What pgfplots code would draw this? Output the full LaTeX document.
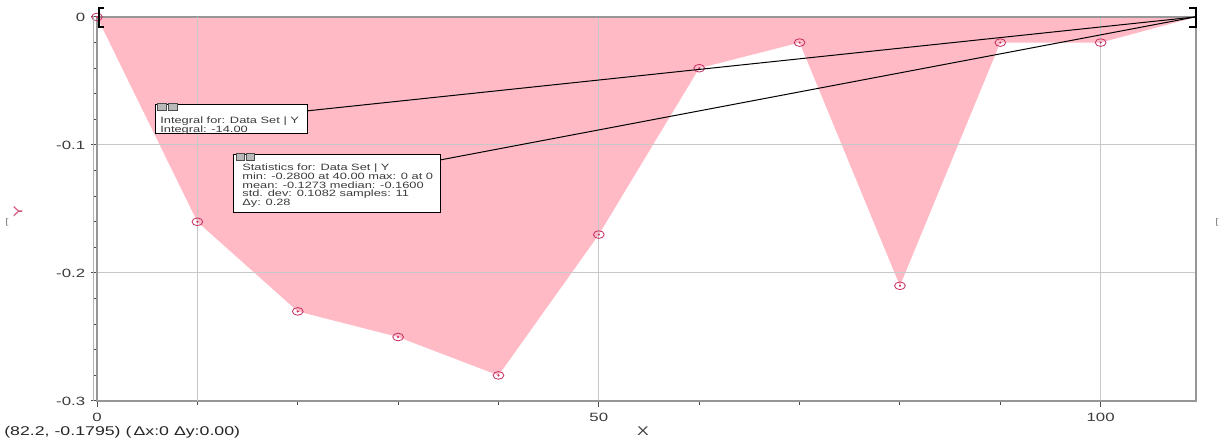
\documentclass[border=0pt]{standalone}
\usepackage{pgfplots}
\pgfplotsset{compat=1.18}
\usepackage{pgfplotstable}
\usepackage{fontspec}
\setmainfont{Liberation Sans}[FakeStretch=1.4]
\definecolor{fillpink}{RGB}{255,186,198}
\definecolor{markc}{RGB}{200,50,100}
\definecolor{axgray}{RGB}{150,150,150}
\definecolor{gridgray}{RGB}{200,200,200}
\definecolor{ylab}{RGB}{215,80,120}
\definecolor{txt}{RGB}{60,60,60}

\pgfplotstableread{
x y
0 0
10 -0.16
20 -0.23
30 -0.25
40 -0.28
50 -0.17
60 -0.04
70 -0.02
80 -0.21
90 -0.02
100 -0.02
}\pts

\pgfplotstableread{
x y
0 0
10 -0.16
20 -0.23
30 -0.25
40 -0.28
50 -0.17
60 -0.04
70 -0.02
80 -0.21
90 -0.02
100 -0.02
109.5 0
}\fillpts

\begin{document}
\begin{tikzpicture}
\useasboundingbox (0,0) rectangle (735pt,266.4pt);
\begin{axis}[
  name=ax, at={(58.2pt,25.8pt)}, anchor=south west,
  scale only axis, width=659.4pt, height=230.4pt,
  xmin=0, xmax=109.5, ymin=-0.3, ymax=0,
  xtick={0,50,100}, ytick={-0.3,-0.2,-0.1,0},
  minor x tick num=4, minor y tick num=4,
  tick align=outside, tick pos=left,
  major tick length=3.6pt, minor tick length=2.4pt,
  every tick/.style={black!70, line width=0.6pt},
  axis line style={axgray, line width=0.9pt},
  xmajorgrids, ymajorgrids,
  extra x ticks={10}, extra x tick labels={},
  extra x tick style={grid=major, major tick length=0pt},
  grid style={gridgray, line width=0.6pt},
  axis on top,
  /pgf/number format/assume math mode=true,
  tick label style={font=\fontsize{7.2}{8}\selectfont, text=txt},
  clip=false,
]
\addplot[fill=fillpink, draw=none] table {\fillpts} \closedcycle;
\addplot[only marks, mark=o, mark size=2.3pt, markc, mark options={xscale=1.4, line width=0.5pt}] table {\pts};
\addplot[only marks, mark=*, mark size=0.4pt, markc] table {\pts};
\end{axis}
\begin{scope}[x=0.6pt, y=-0.6pt, shift={(0pt,266.4pt)}]
  % left axis double line
  \draw[gray!60, line width=0.6pt] (93,16) -- (93,401);
  % callout lines
  \draw[black, line width=0.6pt] (306,111) -- (1195,17);
  \draw[black, line width=0.6pt] (440,160) -- (1195,17);
  % brackets
  \draw[black, line width=1.3pt] (104,8) -- (99,8) -- (99,27) -- (104,27);
  \draw[black, line width=1.3pt] (1189,8) -- (1196,8) -- (1196,27) -- (1189,27);
  % integral box
  \draw[fill=white, line width=0.6pt] (155,105) rectangle (307,134);
  \draw[fill=gray!55, draw=black!70, line width=0.3pt] (157,103) rectangle (166,110);
  \draw[fill=gray!55, draw=black!70, line width=0.3pt] (168,103) rectangle (177,110);
  \node[anchor=west, inner sep=0, font=\fontsize{5.5}{6.5}\selectfont, text=txt] at (160,121.5) {Integral for: Data Set | Y};
  \node[anchor=west, inner sep=0, font=\fontsize{5.5}{6.5}\selectfont, text=txt] at (160,130) {Integral: -14.00};
  % statistics box
  \draw[fill=white, line width=0.6pt] (233,155) rectangle (440,213);
  \draw[fill=gray!55, draw=black!70, line width=0.3pt] (236,153) rectangle (244,160);
  \draw[fill=gray!55, draw=black!70, line width=0.3pt] (246,153) rectangle (254,160);
  \node[anchor=west, inner sep=0, font=\fontsize{5.5}{6.5}\selectfont, text=txt] at (242,168) {Statistics for: Data Set | Y};
  \node[anchor=west, inner sep=0, font=\fontsize{5.5}{6.5}\selectfont, text=txt] at (242,176.5) {min: -0.2800 at 40.00 max: 0 at 0};
  \node[anchor=west, inner sep=0, font=\fontsize{5.5}{6.5}\selectfont, text=txt] at (242,185) {mean: -0.1273 median: -0.1600};
  \node[anchor=west, inner sep=0, font=\fontsize{5.5}{6.5}\selectfont, text=txt] at (242,194) {std. dev: 0.1082 samples: 11};
  \node[anchor=west, inner sep=0, font=\fontsize{5.5}{6.5}\selectfont, text=txt] at (242,203) {Δy: 0.28};
  % axis labels
  \node[font=\fontsize{7.5}{8}\selectfont, text=txt] at (643,431) {X};
  \node[rotate=90, font=\fontsize{7.5}{8}\selectfont, text=ylab] at (18,212) {Y};
  \node[anchor=west, inner sep=0, font=\fontsize{7.6}{8}\selectfont, text=black!85] at (4,432) {(82.2, -0.1795) (\,Δx:0 Δy:0.00)};
  % small marks
  \node[inner sep=0, font=\fontsize{5}{6}\selectfont, text=gray] at (7,222) {[};
  \node[inner sep=0, font=\fontsize{5}{6}\selectfont, text=gray] at (1217,222) {[};
\end{scope}
\end{tikzpicture}
\end{document}
